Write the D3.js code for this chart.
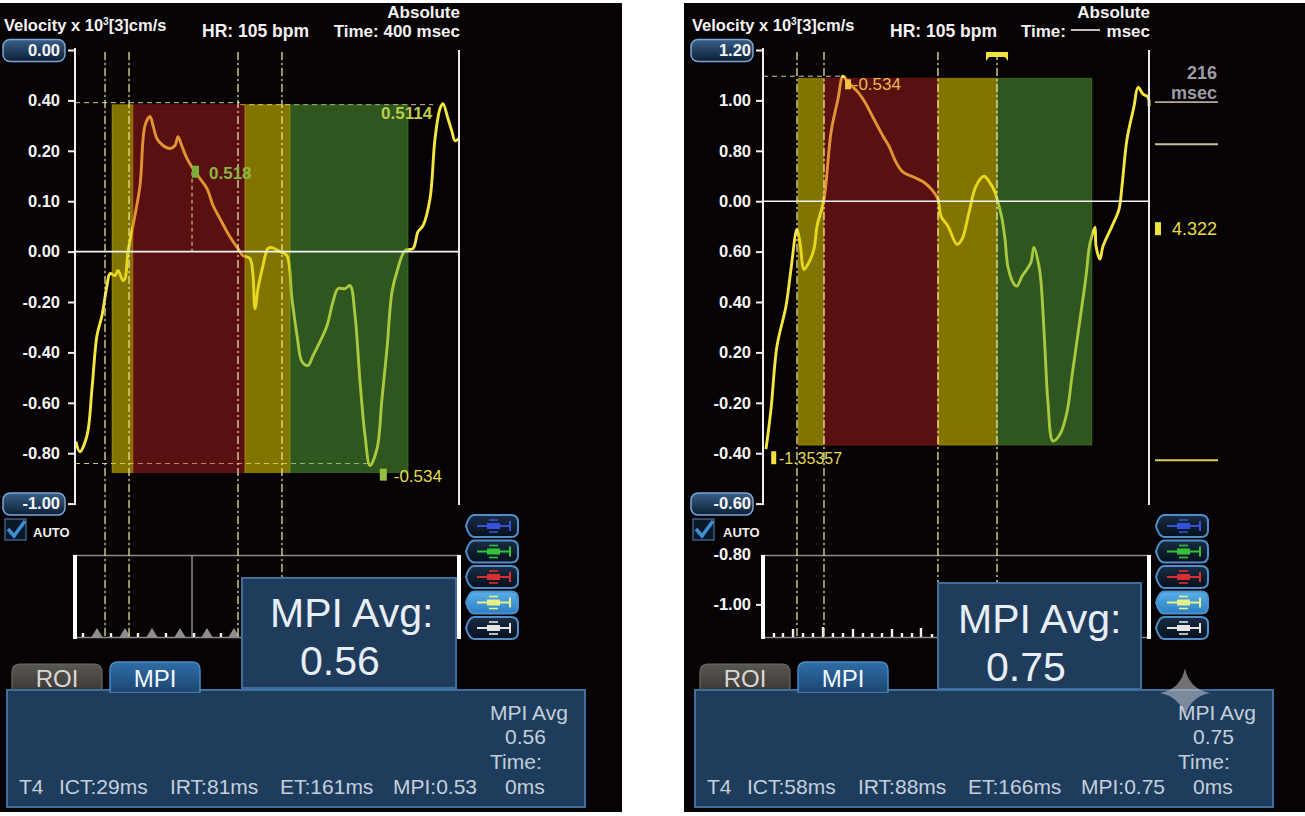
<!DOCTYPE html>
<html>
<head>
<meta charset="utf-8">
<script src="https://cdn.jsdelivr.net/npm/d3@7"></script>
<style>
    body { margin: 0; background: #ffffff; }
    svg text { font-family: "Liberation Sans", Arial, sans-serif; }
</style>
</head>
<body>
<script>

//left screen trace: time (ms) and velocity (0.2 per grid line, 0 on the white base line)
var leftTimes = [1, 5, 12.5, 17.7, 22.9, 28.1, 33.3, 36.5, 41.7, 44.8,
    50, 52.1, 55.2, 60.4, 67.7, 72.9, 78.1, 81.3, 85.4, 91.7,
    99, 104.2, 107.3, 111.5, 116.7, 122.9, 130.2, 137.5, 143.8, 151,
    158.3, 164.6, 169.8, 175, 182.3, 187.5, 190.6, 195.8, 201, 205.2,
    211.5, 215.6, 220.8, 226, 231.3, 236.5, 242.7, 247.9, 255.2, 262.5,
    268.8, 274, 281.3, 286.5, 291.7, 296.9, 302.1, 307.3, 314.6, 319.8,
    325, 330.2, 335.4, 343.8, 352.1, 357.3, 362.5, 369.8, 375, 380.2,
    383.3, 388.5, 392.7, 395.8, 400];
var leftVelocity = [-0.754, -0.794, -0.730, -0.544, -0.333, -0.254, -0.135, -0.087, -0.095, -0.075,
    -0.115, -0.107, 0, 0.103, 0.262, 0.5, 0.536, 0.5, 0.448, 0.421,
    0.409, 0.421, 0.456, 0.417, 0.369, 0.329, 0.290, 0.25, 0.183, 0.131,
    0.079, 0.040, 0.012, -0.016, -0.028, -0.226, -0.147, -0.056, 0.012, 0.016,
    0.004, -0.004, -0.016, -0.187, -0.333, -0.437, -0.452, -0.413, -0.357, -0.294,
    -0.198, -0.147, -0.147, -0.135, -0.254, -0.516, -0.730, -0.849, -0.782, -0.583,
    -0.385, -0.159, -0.079, 0.004, 0.012, 0.079, 0.103, 0.210, 0.448, 0.567,
    0.587, 0.528, 0.476, 0.440, 0.448];

//right screen trace
var rightTimes = [3.1, 8.3, 14.5, 23.8, 29.0, 35.2, 38.3, 42.5, 46.6, 52.8,
    56.0, 63.2, 70.5, 77.7, 82.9, 88.1, 98.4, 105.7, 115.0, 124.4,
    130.6, 137.8, 145.1, 156.5, 166.8, 176.2, 181.3, 184.5, 191.7, 201.0,
    206.2, 213.5, 220.7, 229.0, 234.2, 240.4, 243.5, 247.7, 250.8, 253.9,
    260.1, 263.2, 268.4, 273.6, 277.7, 280.8, 286.0, 288.1, 292.2, 295.3,
    300.5, 307.8, 315.0, 320.2, 327.5, 334.7, 337.8, 339.9, 344.0, 345.1,
    349.2, 352.3, 361.7, 368.9, 372.0, 377.2, 384.5, 388.6, 393.8, 399.0,
    400];
var rightVelocity = [-0.984, -0.825, -0.575, -0.417, -0.270, -0.111, -0.163, -0.270, -0.250, -0.190,
    -0.099, 0.008, 0.274, 0.405, 0.496, 0.472, 0.433, 0.393, 0.325, 0.258,
    0.218, 0.155, 0.115, 0.095, 0.075, 0.040, 0.008, -0.060, -0.099, -0.171,
    -0.151, -0.044, 0.060, 0.099, 0.079, 0.036, -0.004, -0.071, -0.151, -0.262,
    -0.329, -0.337, -0.298, -0.270, -0.242, -0.183, -0.258, -0.321, -0.587, -0.798,
    -0.952, -0.925, -0.837, -0.694, -0.496, -0.298, -0.190, -0.151, -0.103, -0.179,
    -0.230, -0.179, -0.099, -0.032, 0.060, 0.246, 0.377, 0.452, 0.425, 0.413,
    0.377];

//y tick labels as printed on each screen (top to bottom)
var leftTickLabels = ["0.00", "0.40", "0.20", "0.10", "0.00", "-0.20", "-0.40", "-0.60", "-0.80", "-1.00"];
var rightTickLabels = ["1.20", "1.00", "0.80", "0.00", "0.60", "0.40", "0.20", "-0.20", "-0.40", "-0.60", "-0.80", "-1.00"];

//phase boxes: ICT, ET, IRT, filling (edges in ms)
var phaseNames = ["ICT", "ET", "IRT", "A"];
var phaseColors = ["#e0cc00", "#c82323", "#e0cc00", "#5aaa3c"];
var phaseOpacity = [0.57, 0.42, 0.57, 0.5];
var leftPhaseEdges = [38.5, 60.4, 177, 224, 347];
var rightPhaseEdges = [36.3, 63.2, 181.3, 242.5, 340.9];
var leftPhaseRange = [0.583, -0.877];
var rightPhaseRange = [0.488, -0.968];

//dash-dot caliper lines (ms)
var leftCalipers = [31.3, 56.3, 169.8, 215.6];
var rightCalipers = [35.2, 63.2, 181.3, 242.5];

//beat markers in the small strip below
var leftBeatTriangles = [22.9, 52.1, 80.2, 109.4, 137.5, 165.6];
var leftBeatTicks = [8.3, 37.5, 65.6, 94.8, 124, 152];
var rightBeatTicks = [11.4, 20.7, 31.1, 41.5, 51.8, 62.2, 72.5, 82.9, 93.3, 103.6, 113, 123.3, 133.7, 144, 154.4, 163.7, 175.1];
var rightBeatHeights = [4, 4, 8, 4, 4, 10, 4, 4, 8, 4, 4, 4, 8, 4, 4, 9, 3];

//measurement text
var statLabels = ["T4", "ICT", "IRT", "ET", "MPI"];
var leftStats = ["T4", "29ms", "81ms", "161ms", "0.53"];
var rightStats = ["T4", "58ms", "88ms", "166ms", "0.75"];
var mpiAvg = ["0.56", "0.75"];
var buttonColors = ["#3552d8", "#33c23a", "#d83030", "#e6f08a", "#e4e4e4"];

//---------- svg ----------
var w = 1305, h = 816;

var svg = d3.select("body")
    .append("svg")
    .attr("width", w)
    .attr("height", h)
    .style("display", "block");

svg.append("rect")
    .attr("width", w)
    .attr("height", h)
    .attr("fill", "#ffffff");

//gradients for the screen widgets
var defs = svg.append("defs");
function vGrad(id, top, bottom) {
    var g = defs.append("linearGradient").attr("id", id)
        .attr("x1", 0).attr("y1", 0).attr("x2", 0).attr("y2", 1);
    g.append("stop").attr("offset", "0%").attr("stop-color", top);
    g.append("stop").attr("offset", "100%").attr("stop-color", bottom);
}
vGrad("boxGrad", "#3a5f88", "#0c1f35");
vGrad("tabBlue", "#2f6ea8", "#1d4670");
vGrad("tabGray", "#5a5652", "#3c3835");
vGrad("btnDark", "#1a2c44", "#06101c");
vGrad("btnLight", "#5ab0ea", "#2a80c4");

function buttonPath(x, y, bw, bh) {
    var r = 7;
    return "M" + (x + 8) + "," + y +
        " L" + (x + bw - r) + "," + y +
        " Q" + (x + bw) + "," + y + " " + (x + bw) + "," + (y + r) +
        " L" + (x + bw) + "," + (y + bh - r) +
        " Q" + (x + bw) + "," + (y + bh) + " " + (x + bw - r) + "," + (y + bh) +
        " L" + (x + 8) + "," + (y + bh) +
        " Q" + (x + 3) + "," + (y + bh) + " " + x + "," + (y + bh / 2) +
        " Q" + (x + 3) + "," + y + " " + (x + 8) + "," + y + " Z";
}

function tabPath(x, y, tw, th) {
    var r = 8;
    return "M" + x + "," + (y + th) + " L" + x + "," + (y + r) +
        " Q" + x + "," + y + " " + (x + r) + "," + y +
        " L" + (x + tw - r) + "," + y +
        " Q" + (x + tw) + "," + y + " " + (x + tw) + "," + (y + r) +
        " L" + (x + tw) + "," + (y + th) + " Z";
}

//one ultrasound screen
function drawPanel(p) {
    var g = svg.append("g");
    var ox = p.ox;

    g.append("rect")
        .attr("x", p.panelX).attr("y", 3)
        .attr("width", p.panelW).attr("height", 809)
        .attr("fill", "#070203");

    var n = p.tickLabels.length;
    var topV = 0.2 * p.zeroIndex;
    var x = d3.scaleLinear().domain([0, 400]).range([ox + 75, ox + p.plotRight]);
    var y = d3.scaleLinear().domain([topV, topV - 0.2 * (n - 1)]).range([50, 50 + 50.4 * (n - 1)]);
    var tickVals = d3.range(n).map(function(i) { return topV - 0.2 * i; });

    //header texts
    var head = g.append("text")
        .attr("x", ox + 4).attr("y", 31)
        .attr("fill", "#f2f2f2").attr("font-size", 16.5).attr("font-weight", "bold");
    head.append("tspan").text("Velocity x 10");
    head.append("tspan").attr("font-size", 10).attr("dy", -6).text("3");
    head.append("tspan").attr("dy", 6).text("[3]cm/s");

    g.append("text").attr("x", ox + 202).attr("y", 37)
        .attr("fill", "#f2f2f2").attr("font-size", 17.5).attr("font-weight", "bold")
        .text("HR: 105 bpm");
    g.append("text").attr("x", ox + p.headRight).attr("y", 18)
        .attr("text-anchor", "end")
        .attr("fill", "#f2f2f2").attr("font-size", 17).attr("font-weight", "bold")
        .text("Absolute");
    if (p.timeValue) {
        g.append("text").attr("x", ox + p.headRight).attr("y", 37)
            .attr("text-anchor", "end")
            .attr("fill", "#f2f2f2").attr("font-size", 17).attr("font-weight", "bold")
            .text("Time: " + p.timeValue + " msec");
    } else {
        g.append("text").attr("x", ox + p.headRight).attr("y", 37)
            .attr("text-anchor", "end")
            .attr("fill", "#f2f2f2").attr("font-size", 17).attr("font-weight", "bold")
            .text("msec");
        g.append("line")
            .attr("x1", ox + p.headRight - 79).attr("x2", ox + p.headRight - 50)
            .attr("y1", 30).attr("y2", 30)
            .attr("stroke", "#f2f2f2").attr("stroke-width", 1.6);
        g.append("text").attr("x", ox + p.headRight - 84).attr("y", 37)
            .attr("text-anchor", "end")
            .attr("fill", "#f2f2f2").attr("font-size", 17).attr("font-weight", "bold")
            .text("Time:");
    }

    //horizontal dashed guide lines
    g.selectAll(".hguide")
        .data(p.hGuides)
        .enter()
        .append("line")
        .attr("class", "hguide")
        .attr("x1", function(d) { return x(d.t0); })
        .attr("x2", function(d) { return x(d.t1); })
        .attr("y1", function(d) { return y(d.v); })
        .attr("y2", function(d) { return y(d.v); })
        .attr("stroke", "#cfc7a4")
        .attr("stroke-width", 1)
        .attr("stroke-dasharray", "5,4");

    //velocity trace (under the translucent phase boxes)
    var pts = p.times.map(function(t, i) { return [t, p.vel[i]]; });
    var line = d3.line()
        .x(function(d) { return x(d[0]); })
        .y(function(d) { return y(d[1]); })
        .curve(d3.curveCatmullRom.alpha(0.5));
    g.append("path")
        .datum(pts)
        .attr("d", line)
        .attr("fill", "none")
        .attr("stroke", "#f4e642")
        .attr("stroke-width", 2.9)
        .attr("stroke-linejoin", "round");

    //phase boxes
    g.selectAll(".phase")
        .data(phaseNames)
        .enter()
        .append("rect")
        .attr("class", "phase")
        .attr("x", function(d, i) { return x(p.phaseEdges[i]); })
        .attr("width", function(d, i) { return x(p.phaseEdges[i + 1]) - x(p.phaseEdges[i]); })
        .attr("y", y(p.phaseRange[0]))
        .attr("height", y(p.phaseRange[1]) - y(p.phaseRange[0]))
        .attr("fill", function(d, i) { return phaseColors[i]; })
        .attr("fill-opacity", function(d, i) { return phaseOpacity[i]; })
        .attr("stroke", function(d, i) { return phaseColors[i]; })
        .attr("stroke-opacity", 0.35);

    //zero base line and right border
    g.append("line")
        .attr("x1", x(0)).attr("x2", x(400))
        .attr("y1", y(0)).attr("y2", y(0))
        .attr("stroke", "#f4f4f4").attr("stroke-width", 1.6);
    g.append("line")
        .attr("x1", x(400)).attr("x2", x(400))
        .attr("y1", 50).attr("y2", 505)
        .attr("stroke", "#e8e8e8").attr("stroke-width", 2);

    //small strip below the trace
    g.append("line")
        .attr("x1", x(0)).attr("x2", x(400)).attr("y1", 555.5).attr("y2", 555.5)
        .attr("stroke", "#8c8a86").attr("stroke-width", 1.5);
    g.append("line")
        .attr("x1", x(0)).attr("x2", x(400)).attr("y1", 637.5).attr("y2", 637.5)
        .attr("stroke", "#8c8a86").attr("stroke-width", 1.5);
    [0, 400].forEach(function(t) {
        g.append("line")
            .attr("x1", x(t)).attr("x2", x(t)).attr("y1", 555).attr("y2", 639)
            .attr("stroke", "#ffffff").attr("stroke-width", 4);
    });
    if (p.stripDivider) {
        g.append("line")
            .attr("x1", x(p.stripDivider)).attr("x2", x(p.stripDivider))
            .attr("y1", 556).attr("y2", 637)
            .attr("stroke", "#8c8a86").attr("stroke-width", 1.5);
    }
    if (p.beatTriangles) {
        g.selectAll(".beatTri")
            .data(p.beatTriangles)
            .enter()
            .append("path")
            .attr("class", "beatTri")
            .attr("d", function(d) {
                var cx = x(d);
                return "M" + (cx - 5.5) + ",637 L" + cx + ",628 L" + (cx + 5.5) + ",637 Z";
            })
            .attr("fill", "#8e8e8e");
    }
    g.selectAll(".beatTick")
        .data(p.beatTicks)
        .enter()
        .append("rect")
        .attr("class", "beatTick")
        .attr("x", function(d) { return x(d) - 1.2; })
        .attr("width", 2.4)
        .attr("y", function(d, i) { return 637 - (p.beatHeights ? p.beatHeights[i] : 4); })
        .attr("height", function(d, i) { return p.beatHeights ? p.beatHeights[i] : 4; })
        .attr("fill", "#f0f0f0");

    //dash-dot calipers
    g.selectAll(".caliper")
        .data(p.calipers)
        .enter()
        .append("line")
        .attr("class", "caliper")
        .attr("x1", function(d) { return x(d); })
        .attr("x2", function(d) { return x(d); })
        .attr("y1", 52).attr("y2", 638)
        .attr("stroke", "#ebe2a0")
        .attr("stroke-width", 1.3)
        .attr("stroke-dasharray", "8,3,2,3");

    //y axis
    var axis = d3.axisLeft(y)
        .tickValues(tickVals)
        .tickSize(7)
        .tickPadding(p.tickPad)
        .tickFormat(function(d, i) { return p.tickLabels[i]; });
    var ax = g.append("g")
        .attr("transform", "translate(" + x(0) + ",0)")
        .call(axis);
    ax.select(".domain").remove();
    ax.selectAll(".tick line")
        .attr("stroke", "#f0f0f0").attr("stroke-width", 2)
        .style("display", function(d, i) { return p.hiddenTicks.indexOf(i) >= 0 ? "none" : null; });
    //rounded boxes behind the range labels
    ax.selectAll(".tick").each(function(d, i) {
        if (p.boxIdx.indexOf(i) >= 0) {
            d3.select(this).insert("rect", "text")
                .attr("x", -72).attr("y", -11)
                .attr("width", 62).attr("height", 22)
                .attr("rx", 7)
                .attr("fill", "url(#boxGrad)")
                .attr("stroke", "#7aa6d2")
                .attr("stroke-width", 1.5);
        }
    });
    ax.selectAll(".tick text")
        .attr("fill", "#f4f4f4")
        .attr("font-size", 16.5)
        .attr("font-weight", "bold")
        .attr("font-family", "Liberation Sans, Arial, sans-serif");
    g.append("line")
        .attr("x1", x(0)).attr("x2", x(0))
        .attr("y1", 48).attr("y2", 505)
        .attr("stroke", "#f0f0f0").attr("stroke-width", 2);

    //AUTO check box
    g.append("rect")
        .attr("x", ox + 5).attr("y", 519).attr("width", 21).attr("height", 21)
        .attr("fill", "#0b1828").attr("stroke", "#3c5e82").attr("stroke-width", 1.5);
    g.append("path")
        .attr("d", "M" + (ox + 8) + ",529 L" + (ox + 14) + ",536 L" + (ox + 25) + ",521")
        .attr("fill", "none").attr("stroke", "#3f8fd8").attr("stroke-width", 3.5);
    g.append("text")
        .attr("x", ox + p.autoX).attr("y", 537)
        .attr("fill", "#f0f0f0").attr("font-size", 13).attr("font-weight", "bold")
        .text("AUTO");

    //trace colour buttons
    var btn = g.selectAll(".btn")
        .data(buttonColors)
        .enter()
        .append("g")
        .attr("class", "btn")
        .attr("transform", function(d, i) { return "translate(" + (ox + p.btnX) + "," + (515 + i * 25.5) + ")"; });
    btn.append("path")
        .attr("d", buttonPath(0, 0, 52, 22))
        .attr("fill", function(d, i) { return i === 3 ? "url(#btnLight)" : "url(#btnDark)"; })
        .attr("stroke", "#4f8fcc")
        .attr("stroke-width", 2);
    btn.append("line")
        .attr("x1", 11).attr("x2", 44).attr("y1", 11).attr("y2", 11)
        .attr("stroke", function(d) { return d; }).attr("stroke-width", 2);
    btn.append("rect")
        .attr("x", 21).attr("width", 13).attr("y", 8).attr("height", 6)
        .attr("fill", function(d) { return d; });
    btn.append("line")
        .attr("x1", 23).attr("x2", 32).attr("y1", 5).attr("y2", 5)
        .attr("stroke", function(d) { return d; }).attr("stroke-width", 1.6);
    btn.append("line")
        .attr("x1", 23).attr("x2", 32).attr("y1", 17).attr("y2", 17)
        .attr("stroke", function(d) { return d; }).attr("stroke-width", 1.6);
    btn.append("line")
        .attr("x1", 44).attr("x2", 44).attr("y1", 6).attr("y2", 16)
        .attr("stroke", function(d) { return d; }).attr("stroke-width", 2);

    //MPI average pop-up
    g.append("rect")
        .attr("x", p.mpiBox[0]).attr("y", p.mpiBox[1])
        .attr("width", p.mpiBox[2]).attr("height", p.mpiBox[3])
        .attr("fill", "#1f3c5c").attr("stroke", "#3f6d9c").attr("stroke-width", 2);
    g.append("text")
        .attr("x", p.mpiBox[0] + p.mpiText[0]).attr("y", p.mpiBox[1] + p.mpiText[1])
        .attr("fill", "#e8eef5").attr("font-size", 41)
        .text("MPI Avg:");
    g.append("text")
        .attr("x", p.mpiBox[0] + p.mpiText[2]).attr("y", p.mpiBox[1] + p.mpiText[3])
        .attr("fill", "#e8eef5").attr("font-size", 41)
        .text(p.mpiAvg);

    //tabs and measurement panel
    g.append("path")
        .attr("d", tabPath(ox + 12, 664, 90, 28))
        .attr("fill", "url(#tabGray)").attr("stroke", "#6e6a64").attr("stroke-width", 1.2);
    g.append("text")
        .attr("x", ox + 57).attr("y", 687).attr("text-anchor", "middle")
        .attr("fill", "#d8d8d8").attr("font-size", 24)
        .text("ROI");
    g.append("rect")
        .attr("x", ox + 7).attr("y", 690).attr("width", 578).attr("height", 117)
        .attr("fill", "#1e3d5d").attr("stroke", "#3f6f9f").attr("stroke-width", 2);
    g.append("path")
        .attr("d", tabPath(ox + 110, 662, 90, 30))
        .attr("fill", "url(#tabBlue)").attr("stroke", "#4a8cc6").attr("stroke-width", 1.5);
    g.append("rect")
        .attr("x", ox + 111).attr("y", 689).attr("width", 88).attr("height", 3)
        .attr("fill", "#1f4a74");
    g.append("text")
        .attr("x", ox + 155).attr("y", 687).attr("text-anchor", "middle")
        .attr("fill", "#f4f8fc").attr("font-size", 24)
        .text("MPI");

    var statX = [19, 59, 170, 280, 393];
    g.selectAll(".stat")
        .data(p.stats)
        .enter()
        .append("text")
        .attr("class", "stat")
        .attr("x", function(d, i) { return ox + statX[i]; })
        .attr("y", 794)
        .attr("fill", "#c4cfdb")
        .attr("font-size", 21)
        .text(function(d, i) { return i === 0 ? d : statLabels[i] + ":" + d; });
    var col = [["MPI Avg", 490, 720], [p.mpiAvg, 505, 744], ["Time:", 490, 769], ["0ms", 505, 794]];
    g.selectAll(".avgcol")
        .data(col)
        .enter()
        .append("text")
        .attr("class", "avgcol")
        .attr("x", function(d) { return ox + d[1]; })
        .attr("y", function(d) { return d[2]; })
        .attr("fill", "#c4cfdb")
        .attr("font-size", 21)
        .text(function(d) { return d[0]; });

    return { x: x, y: y, g: g };
}

//---------- left screen ----------
var L = drawPanel({
    panelX: 0, panelW: 622, ox: 0, plotRight: 459, headRight: 460,
    tickLabels: leftTickLabels, zeroIndex: 4, boxIdx: [0, 9], hiddenTicks: [], tickPad: 8,
    times: leftTimes, vel: leftVelocity,
    phaseEdges: leftPhaseEdges, phaseRange: leftPhaseRange,
    calipers: leftCalipers,
    hGuides: [{ t0: 0, t1: 172, v: 0.591 }, { t0: 172, t1: 373, v: 0.583 }, { t0: 0, t1: 309, v: -0.841 }],
    timeValue: "400",
    stripDivider: 121.9, beatTriangles: leftBeatTriangles, beatTicks: leftBeatTicks,
    autoX: 33, btnX: 466,
    mpiBox: [242, 578, 214, 110], mpiText: [28, 49, 58, 97], mpiAvg: mpiAvg[0],
    stats: leftStats
});

//peak marker with drop line
L.g.append("line")
    .attr("x1", L.x(121.9)).attr("x2", L.x(121.9))
    .attr("y1", L.y(0.317)).attr("y2", L.y(0))
    .attr("stroke", "#e6dca0").attr("stroke-width", 1).attr("stroke-dasharray", "4,3");
L.g.append("rect")
    .attr("x", L.x(121.9)).attr("y", L.y(0.317) - 6).attr("width", 7).attr("height", 12)
    .attr("fill", "#7eae3c");
L.g.append("text")
    .attr("x", L.x(121.9) + 17).attr("y", L.y(0.317) + 7)
    .attr("fill", "#8fb445").attr("font-size", 17).attr("font-weight", "bold")
    .text("0.518");
L.g.append("text")
    .attr("x", L.x(372)).attr("y", L.y(0.525))
    .attr("text-anchor", "end")
    .attr("fill", "#bccd4a").attr("font-size", 17).attr("font-weight", "bold")
    .text("0.5114");
L.g.append("rect")
    .attr("x", L.x(317.5)).attr("y", L.y(-0.885) - 6).attr("width", 7).attr("height", 12)
    .attr("fill", "#93c03e");
L.g.append("text")
    .attr("x", L.x(332)).attr("y", L.y(-0.885) + 7)
    .attr("fill", "#e2dc52").attr("font-size", 17)
    .text("-0.534");

//---------- right screen ----------
var R = drawPanel({
    panelX: 684, panelW: 621, ox: 688, plotRight: 461, headRight: 462,
    tickLabels: rightTickLabels, zeroIndex: 3, boxIdx: [0, 9], hiddenTicks: [10], tickPad: 5,
    times: rightTimes, vel: rightVelocity,
    phaseEdges: rightPhaseEdges, phaseRange: rightPhaseRange,
    calipers: rightCalipers,
    hGuides: [{ t0: 0, t1: 83, v: 0.496 }],
    timeValue: null,
    stripDivider: null, beatTriangles: null, beatTicks: rightBeatTicks, beatHeights: rightBeatHeights,
    autoX: 35, btnX: 468,
    mpiBox: [938, 583, 203, 106], mpiText: [20, 50, 48, 98], mpiAvg: mpiAvg[1],
    stats: rightStats
});

//caliper handle on top
R.g.append("path")
    .attr("d", "M" + (R.x(242.5) - 11) + ",52 L" + (R.x(242.5) + 11) + ",52 L" + (R.x(242.5) + 11) + ",61 L" +
        (R.x(242.5) + 8) + ",57 L" + (R.x(242.5) - 8) + ",57 L" + (R.x(242.5) - 11) + ",61 Z")
    .attr("fill", "#f2e440");

//markers on the trace
R.g.append("rect")
    .attr("x", R.x(85)).attr("y", R.y(0.464) - 5).attr("width", 6).attr("height", 10)
    .attr("fill", "#eec448");
R.g.append("text")
    .attr("x", R.x(93)).attr("y", R.y(0.464) + 6)
    .attr("fill", "#ecbc4e").attr("font-size", 17)
    .text("-0.534");
R.g.append("rect")
    .attr("x", R.x(8.5)).attr("y", R.y(-1.016) - 6).attr("width", 5).attr("height", 13)
    .attr("fill", "#f0e040");
R.g.append("text")
    .attr("x", R.x(16.5)).attr("y", R.y(-1.016) + 7)
    .attr("fill", "#e2da5a").attr("font-size", 16)
    .text("-1.35357");

//time scale readout on the right of the plot
R.g.append("text")
    .attr("x", 1217).attr("y", 79).attr("text-anchor", "end")
    .attr("fill", "#9c9ca6").attr("font-size", 18).attr("font-weight", "bold")
    .text("216");
R.g.append("text")
    .attr("x", 1217).attr("y", 99).attr("text-anchor", "end")
    .attr("fill", "#9c9ca6").attr("font-size", 18).attr("font-weight", "bold")
    .text("msec");
var rightScaleMarks = [0.393, 0.226, -1.028];
var rightScaleColors = ["#b4ac98", "#c8c0a0", "#dccf5a"];
R.g.selectAll(".scaleMark")
    .data(rightScaleMarks)
    .enter()
    .append("line")
    .attr("class", "scaleMark")
    .attr("x1", 1155).attr("x2", 1218)
    .attr("y1", function(d) { return R.y(d); })
    .attr("y2", function(d) { return R.y(d); })
    .attr("stroke", function(d, i) { return rightScaleColors[i]; })
    .attr("stroke-width", 1.8);
R.g.append("rect")
    .attr("x", 1155).attr("y", R.y(-0.107) - 6).attr("width", 6).attr("height", 13)
    .attr("fill", "#f0e040");
R.g.append("text")
    .attr("x", 1172).attr("y", R.y(-0.107) + 7)
    .attr("fill", "#e8dc4a").attr("font-size", 18)
    .text("4.322");

//faint four-point sparkle over the lower right corner
R.g.append("path")
    .attr("d", "M1185,668 Q1189,689 1210,693 Q1189,697 1185,718 Q1181,697 1160,693 Q1181,689 1185,668 Z")
    .attr("fill", "#c8ccd2")
    .attr("fill-opacity", 0.55);

</script>
</body>
</html>
